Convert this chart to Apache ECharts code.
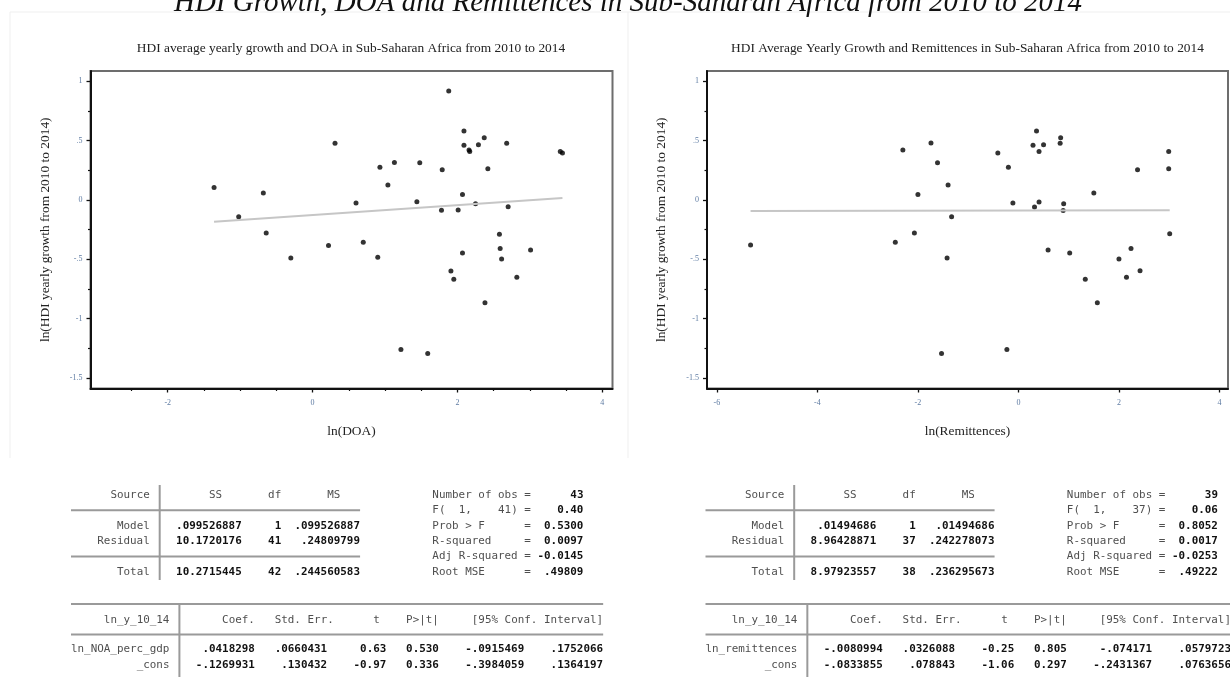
<!DOCTYPE html>
<html><head><meta charset="utf-8">
<script src="https://cdn.jsdelivr.net/npm/echarts@6/dist/echarts.min.js"></script>
<style>html,body{margin:0;padding:0;background:#fff}#c{width:1230px;height:677px}</style>
</head><body><div id="c"></div>
<script>
// ---------- texts ----------
const mainTitle = 'HDI Growth, DOA and Remittences in Sub-Saharan Africa from 2010 to 2014';
const leftTitle = 'HDI average yearly growth and DOA in Sub-Saharan Africa from 2010 to 2014';
const rightTitle = 'HDI Average Yearly Growth and Remittences in Sub-Saharan Africa from 2010 to 2014';
const yAxisName = 'ln(HDI yearly growth from 2010 to 2014)';
const leftXName = 'ln(DOA)';
const rightXName = 'ln(Remittences)';

// ---------- scatter data ----------
const doaX = [-1.36, -1.02, -0.68, -0.64, -0.30, 0.22, 0.31, 0.60, 0.70, 0.90, 0.93, 1.04, 1.13, 1.44, 1.48, 1.59, 1.22, 1.78, 1.79, 1.88, 1.91, 1.95, 2.01, 2.07, 2.07, 2.09, 2.09, 2.16, 2.17, 2.29, 2.25, 2.37, 2.38, 2.42, 2.58, 2.59, 2.61, 2.68, 2.70, 2.82, 3.01, 3.42, 3.45];
const doaY = [0.106, -0.142, 0.059, -0.277, -0.489, -0.383, 0.478, -0.025, -0.355, -0.483, 0.277, 0.126, 0.316, -0.014, 0.313, -1.293, -1.260, -0.087, 0.254, 0.919, -0.598, -0.668, -0.084, 0.047, -0.447, 0.581, 0.461, 0.422, 0.408, 0.466, -0.031, 0.525, -0.866, 0.263, -0.288, -0.408, -0.497, 0.478, -0.056, -0.651, -0.422, 0.408, 0.397];
const remX = [-5.33, -2.45, -2.30, -2.07, -2.00, -1.74, -1.61, -1.53, -1.42, -1.40, -1.33, -0.41, -0.23, -0.20, -0.11, 0.29, 0.32, 0.36, 0.41, 0.41, 0.50, 0.59, 0.83, 0.84, 0.90, 0.89, 1.02, 1.33, 1.50, 1.57, 2.00, 2.15, 2.24, 2.37, 2.42, 2.99, 2.99, 3.01];
const remY = [-0.380, -0.355, 0.422, -0.277, 0.047, 0.480, 0.313, -1.293, -0.489, 0.126, -0.142, 0.397, -1.260, 0.277, -0.025, 0.461, -0.059, 0.581, -0.017, 0.408, 0.466, -0.422, 0.478, 0.525, -0.031, -0.089, -0.447, -0.668, 0.059, -0.866, -0.497, -0.651, -0.408, 0.254, -0.595, 0.408, 0.263, -0.285];
// fitted lines (end points)
const doaFitX = [-1.36, 3.45];
const doaFitY = [-0.184, 0.017];
const remFitX = [-5.33, 3.01];
const remFitY = [-0.092, -0.086];

// ---------- ticks ----------
const yTicks = [-1.5, -1, -0.5, 0, 0.5, 1];
const yMinorTicks = [-1.25, -0.75, -0.25, 0.25, 0.75];
const doaXTicks = [-2, 0, 2, 4];
const doaXMinorTicks = [-2.5, -1.5, -1, -0.5, 0.5, 1, 1.5, 2.5, 3, 3.5];
const remXTicks = [-6, -4, -2, 0, 2, 4];

// ---------- regression tables ----------
const anovaHeader = ['Source', 'SS', 'df', 'MS'];
const anovaLabels = ['Model', 'Residual', 'Total'];
const statLabels = ['Number of obs =', 'F(  1,    41) =', 'Prob > F      =', 'R-squared     =', 'Adj R-squared =', 'Root MSE      ='];
const statLabelsR = ['Number of obs =', 'F(  1,    37) =', 'Prob > F      =', 'R-squared     =', 'Adj R-squared =', 'Root MSE      ='];
const coefHeader = ['ln_y_10_14', 'Coef.', 'Std. Err.', 't', 'P>|t|', '[95% Conf. Interval]'];

const leftSS = ['.099526887', '10.1720176', '10.2715445'];
const leftDf = ['1', '41', '42'];
const leftMS = ['.099526887', '.24809799', '.244560583'];
const leftStats = ['43', '0.40', '0.5300', '0.0097', '-0.0145', '.49809'];
const leftCoefNames = ['ln_NOA_perc_gdp', '_cons'];
const leftCoefRow1 = ['.0418298', '.0660431', '0.63', '0.530', '-.0915469', '.1752066'];
const leftCoefRow2 = ['-.1269931', '.130432', '-0.97', '0.336', '-.3984059', '.1364197'];

const rightSS = ['.01494686', '8.96428871', '8.97923557'];
const rightDf = ['1', '37', '38'];
const rightMS = ['.01494686', '.242278073', '.236295673'];
const rightStats = ['39', '0.06', '0.8052', '0.0017', '-0.0253', '.49222'];
const rightCoefNames = ['ln_remittences', '_cons'];
const rightCoefRow1 = ['-.0080994', '.0326088', '-0.25', '0.805', '-.074171', '.0579723'];
const rightCoefRow2 = ['-.0833855', '.078843', '-1.06', '0.297', '-.2431367', '.0763656'];

// ---------- helpers ----------
const SERIF = '"Liberation Serif", "DejaVu Serif", serif';
const MONO = '"DejaVu Sans Mono", "Liberation Mono", monospace';
const CW = 6.57;                 // monospace advance
const MONO_SIZE = 10.9;
const stataFmt = v => String(+v.toFixed(2)).replace(/^(-?)0\./, '$1.');
const tickLabelStyle = {color: '#5f7ca3', fontSize: 8, fontFamily: SERIF};

function xMajor(gi, min, max, ticks, name) {
  return {type: 'value', gridIndex: gi, position: 'bottom', min, max,
    name, nameLocation: 'middle', nameGap: 36,
    nameTextStyle: {fontFamily: SERIF, fontSize: 13.4, color: '#222'},
    axisLine: {show: true, onZero: false, lineStyle: {color: '#111', width: 2}},
    axisTick: {show: true, length: 4, customValues: ticks, lineStyle: {color: '#111', width: 1.3}},
    axisLabel: Object.assign({customValues: ticks, margin: 10, formatter: stataFmt}, tickLabelStyle),
    splitLine: {show: false}};
}
function xMinor(gi, min, max, ticks) {
  return {type: 'value', gridIndex: gi, position: 'bottom', min, max,
    axisLine: {show: false, onZero: false},
    axisTick: {show: true, length: 2.5, customValues: ticks, lineStyle: {color: '#111', width: 1.2}},
    axisLabel: {show: false}, splitLine: {show: false}};
}
function yMajor(gi, min, max) {
  return {type: 'value', gridIndex: gi, position: 'left', min, max,
    name: yAxisName, nameLocation: 'middle', nameGap: 39, nameRotate: 90,
    nameTextStyle: {fontFamily: SERIF, fontSize: 13.4, color: '#222'},
    axisLine: {show: true, onZero: false, lineStyle: {color: '#111', width: 2}},
    axisTick: {show: true, length: 4, customValues: yTicks, lineStyle: {color: '#111', width: 1.3}},
    axisLabel: Object.assign({customValues: yTicks, margin: 8, formatter: stataFmt}, tickLabelStyle),
    splitLine: {show: false}};
}
function yMinor(gi, min, max) {
  return {type: 'value', gridIndex: gi, position: 'left', min, max,
    axisLine: {show: false, onZero: false},
    axisTick: {show: true, length: 2.5, customValues: yMinorTicks, lineStyle: {color: '#111', width: 1.2}},
    axisLabel: {show: false}, splitLine: {show: false}};
}

const Y_MIN = -1.588, Y_MAX = 1.087;

// ---------- table building ----------
const rp = (s, n) => String(s).padStart(n);
const lp = (s, n) => String(s).padEnd(n);
const graphics = [];
function addLineText(str, x0, y) {
  const re = /\S+/g; let m;
  while ((m = re.exec(str)) !== null) {
    const tok = m[0];
    if (tok === '|') continue;
    const bold = /^-?\d*\.?\d+$/.test(tok);
    graphics.push({type: 'text', x: x0 + m.index * CW, y,
      style: {text: tok, font: (bold ? 'bold ' : '') + MONO_SIZE + 'px ' + MONO,
        fill: bold ? '#111' : '#4f4f4f', align: 'left', verticalAlign: 'middle'}});
  }
}
function hline(x1, x2, y) {
  graphics.push({type: 'line', shape: {x1, y1: y, x2, y2: y}, style: {stroke: '#9a9a9a', lineWidth: 2}});
}
function vline(x, y1, y2) {
  graphics.push({type: 'line', shape: {x1: x, y1, x2: x, y2}, style: {stroke: '#9a9a9a', lineWidth: 2}});
}
function buildTable(x0u, x0l, ss, df, ms, stLabels, stats, names, row1, row2) {
  const rowsY = [495, 510.3, 525.7, 541, 556.4, 571.7];
  const lines = [];
  lines.push(lp(rp(anovaHeader[0], 12) + ' |' + rp(anovaHeader[1], 9) + rp(anovaHeader[2], 9) + rp(anovaHeader[3], 9), 55));
  lines.push(lp('', 55));
  for (let i = 0; i < 2; i++) lines.push(lp(rp(anovaLabels[i], 12) + ' |' + rp(ss[i], 12) + rp(df[i], 6) + rp(ms[i], 12), 55));
  lines.push(lp('', 55));
  lines.push(lp(rp(anovaLabels[2], 12) + ' |' + rp(ss[2], 12) + rp(df[2], 6) + rp(ms[2], 12), 55));
  lines.forEach((ln, i) => addLineText(ln + stLabels[i] + rp(stats[i], 8), x0u, rowsY[i]));
  hline(x0u, x0u + 44 * CW, rowsY[1]);
  hline(x0u, x0u + 44 * CW, rowsY[4]);
  vline(x0u + 13.5 * CW, 485, 580);
  // coefficient table
  const nw = Math.max(...names.map(n => n.length));
  const lowY = {top: 604, head: 620, sep: 634.5, r1: 649.5, r2: 665};
  const head = rp(coefHeader[0], nw) + ' |' + rp(coefHeader[1], 11) + rp(coefHeader[2], 12) + rp(coefHeader[3], 7) + rp(coefHeader[4], 9) + rp(coefHeader[5], 25);
  const mk = (n, r) => rp(n, nw) + ' |' + rp(r[0], 11) + rp(r[1], 11) + rp(r[2], 9) + rp(r[3], 8) + rp(r[4], 13) + rp(r[5], 12);
  addLineText(head, x0l, lowY.head);
  addLineText(mk(names[0], row1), x0l, lowY.r1);
  addLineText(mk(names[1], row2), x0l, lowY.r2);
  const w = (nw + 2 + 64) * CW;
  hline(x0l, x0l + w, lowY.top);
  hline(x0l, x0l + w, lowY.sep);
  vline(x0l + (nw + 1.5) * CW, lowY.top, 677);
}
buildTable(71, 71, leftSS, leftDf, leftMS, statLabels, leftStats, leftCoefNames, leftCoefRow1, leftCoefRow2);
buildTable(705.5, 705.5, rightSS, rightDf, rightMS, statLabelsR, rightStats, rightCoefNames, rightCoefRow1, rightCoefRow2);

// titles and faint panel frames
graphics.push({type: 'line', shape: {x1: 10, y1: 12, x2: 1230, y2: 12}, style: {stroke: '#efefef', lineWidth: 1}});
graphics.push({type: 'line', shape: {x1: 10, y1: 12, x2: 10, y2: 458}, style: {stroke: '#efefef', lineWidth: 1}});
graphics.push({type: 'line', shape: {x1: 628, y1: 12, x2: 628, y2: 458}, style: {stroke: '#efefef', lineWidth: 1}});
graphics.push({type: 'text', x: 628, y: 3, style: {text: mainTitle, font: 'italic 29px ' + SERIF, fill: '#111', align: 'center', verticalAlign: 'middle'}});
graphics.push({type: 'text', x: 351, y: 48, style: {text: leftTitle, font: '13.4px ' + SERIF, fill: '#222', align: 'center', verticalAlign: 'middle'}});
graphics.push({type: 'text', x: 967.5, y: 48, style: {text: rightTitle, font: '13.4px ' + SERIF, fill: '#222', align: 'center', verticalAlign: 'middle'}});

const chart = echarts.init(document.getElementById('c'), null, {renderer: 'canvas'});
chart.setOption({
  animation: false,
  backgroundColor: '#fff',
  grid: [
    {left: 90.5, top: 71, width: 522, height: 317.5, show: true, borderColor: '#6d6d6d', borderWidth: 2},
    {left: 707, top: 71, width: 521, height: 317.5, show: true, borderColor: '#6d6d6d', borderWidth: 2}
  ],
  xAxis: [
    xMajor(0, -3.066, 4.141, doaXTicks, leftXName),
    xMinor(0, -3.066, 4.141, doaXMinorTicks),
    xMajor(1, -6.197, 4.17, remXTicks, rightXName)
  ],
  yAxis: [
    yMajor(0, Y_MIN, Y_MAX), yMinor(0, Y_MIN, Y_MAX),
    yMajor(1, Y_MIN, Y_MAX), yMinor(1, Y_MIN, Y_MAX)
  ],
  series: [
    {type: 'scatter', xAxisIndex: 0, yAxisIndex: 0, symbol: 'circle', symbolSize: 5,
      itemStyle: {color: '#000'}, data: doaX.map((x, i) => [x, doaY[i]])},
    {type: 'line', xAxisIndex: 0, yAxisIndex: 0, symbol: 'none', silent: true,
      lineStyle: {color: '#c6c6c6', width: 2}, data: doaFitX.map((x, i) => [x, doaFitY[i]])},
    {type: 'scatter', xAxisIndex: 2, yAxisIndex: 2, symbol: 'circle', symbolSize: 5,
      itemStyle: {color: '#000'}, data: remX.map((x, i) => [x, remY[i]])},
    {type: 'line', xAxisIndex: 2, yAxisIndex: 2, symbol: 'none', silent: true,
      lineStyle: {color: '#c6c6c6', width: 2}, data: remFitX.map((x, i) => [x, remFitY[i]])}
  ],
  graphic: graphics
});
</script>
</body></html>
